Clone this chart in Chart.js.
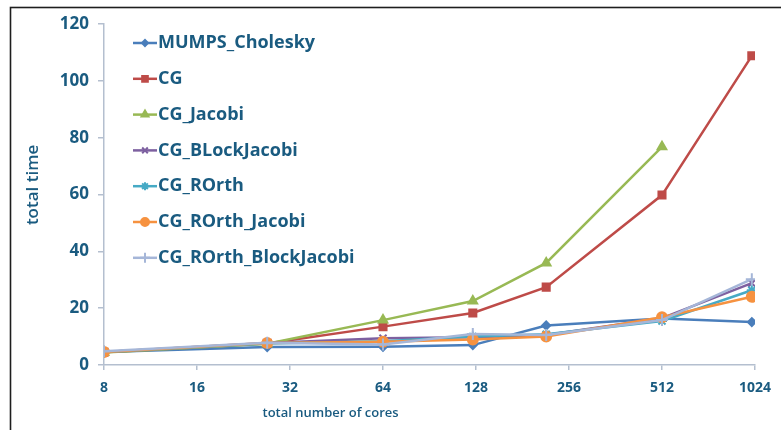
<!DOCTYPE html>
<html>
<head>
<meta charset="utf-8">
<script src="https://cdn.jsdelivr.net/npm/chart.js@4.4.1/dist/chart.umd.min.js"></script>
<style>
  html, body { margin: 0; padding: 0; background: #fff; }
  #wrap { width: 781px; height: 430px; position: relative; }
</style>
</head>
<body>
<div id="wrap"><canvas id="c" width="781" height="430"></canvas></div>
<script>
// Problem sizes (cores) at which each solver was timed
const cores = [8, 27, 64, 125, 216, 512, 1000];
const xTicks = [8, 16, 32, 64, 128, 256, 512, 1024];

// Total run time per solver
const mumpsCholesky      = [4.6, 6.3, 6.4, 7.0, 13.9, 16.4, 15.1];
const cg                 = [4.5, 7.6, 13.5, 18.3, 27.4, 59.8, 108.8];
const cgJacobi           = [4.4, 7.5, 15.8, 22.5, 35.9, 76.8];
const cgBlockJacobi      = [4.6, 7.7, 9.4, 9.8, 10.6, 16.5, 28.8];
const cgROrth            = [4.6, 7.6, 8.4, 10.0, 10.8, 15.5, 26.3];
const cgROrthJacobi      = [4.6, 7.7, 8.2, 9.0, 10.0, 16.8, 24.0];
const cgROrthBlockJacobi = [4.8, 7.8, 7.2, 10.9, 10.6, 15.8, 30.2];

const seriesNames = ['MUMPS_Cholesky', 'CG', 'CG_Jacobi', 'CG_BLockJacobi',
                     'CG_ROrth', 'CG_ROrth_Jacobi', 'CG_ROrth_BlockJacobi'];
const seriesValues = [mumpsCholesky, cg, cgJacobi, cgBlockJacobi,
                      cgROrth, cgROrthJacobi, cgROrthBlockJacobi];
const seriesColors = ['#4A7EBB', '#BE4B48', '#98B954', '#7D60A0',
                      '#46AAC5', '#F69240', '#A5B6D8'];
const seriesMarkers = ['rectRot', 'rect', 'triangle', 'crossRot',
                       'star', 'circle', 'cross'];
const markerSizes = [4, 5, 5, 5, 5, 5, 6];

const textColor = '#1a5b80';
const axisColor = '#b4bfcf';
const FONT = "'Open Sans', 'Liberation Sans', sans-serif";

const datasets = seriesNames.map((name, i) => ({
  label: name,
  data: seriesValues[i].map((v, k) => ({ x: cores[k], y: v })),
  borderColor: seriesColors[i],
  backgroundColor: seriesColors[i],
  pointBackgroundColor: seriesColors[i],
  pointBorderColor: seriesColors[i],
  pointStyle: seriesMarkers[i],
  pointRadius: markerSizes[i],
  pointBorderWidth: 2,
  borderWidth: 2.5,
  tension: 0,
  order: seriesNames.length - i
}));

// White page with a dark frame around the chart
const framePlugin = {
  id: 'frame',
  beforeDraw(chart) {
    const ctx = chart.ctx;
    ctx.save();
    ctx.fillStyle = '#ffffff';
    ctx.fillRect(0, 0, chart.width, chart.height);
    ctx.strokeStyle = '#1e1e1e';
    ctx.lineWidth = 1.6;
    ctx.strokeRect(10.5, 7.5, chart.width + 20, chart.height + 20);
    ctx.restore();
  }
};

// Legend drawn inside the plot area, top-left
const innerLegend = {
  id: 'innerLegend',
  afterDatasetsDraw(chart) {
    const ctx = chart.ctx;
    const area = chart.chartArea;
    const x0 = area.left + 29;
    const y0 = area.top + 19;
    const step = 35.8;
    ctx.save();
    chart.data.datasets.forEach((ds, i) => {
      const y = y0 + i * step;
      ctx.strokeStyle = ds.borderColor;
      ctx.lineWidth = 2.5;
      ctx.beginPath();
      ctx.moveTo(x0, y);
      ctx.lineTo(x0 + 24, y);
      ctx.stroke();
      ctx.fillStyle = ds.borderColor;
      ctx.lineWidth = 2;
      Chart.helpers.drawPoint(ctx, {
        pointStyle: ds.pointStyle,
        radius: ds.pointRadius - 1,
        rotation: 0,
        borderWidth: 2
      }, x0 + 12, y);
      ctx.fillStyle = textColor;
      ctx.font = "bold 18px " + FONT;
      ctx.textBaseline = 'middle';
      ctx.textAlign = 'left';
      ctx.fillText(ds.label, x0 + 25, y);
    });
    ctx.restore();
  }
};

// Axis titles
const axisTitles = {
  id: 'axisTitles',
  afterDraw(chart) {
    const ctx = chart.ctx;
    const area = chart.chartArea;
    ctx.save();
    ctx.fillStyle = textColor;
    ctx.textAlign = 'center';
    ctx.textBaseline = 'middle';
    ctx.font = "600 13px " + FONT;
    ctx.fillText('total number of cores', area.left + 0.348 * (area.right - area.left), area.bottom + 48);
    ctx.font = "600 17px " + FONT;
    ctx.translate(33, area.top + 0.472 * (area.bottom - area.top));
    ctx.rotate(-Math.PI / 2);
    ctx.fillText('total time', 0, 0);
    ctx.restore();
  }
};

new Chart(document.getElementById('c'), {
  type: 'line',
  data: { datasets },
  plugins: [framePlugin, innerLegend, axisTitles],
  options: {
    responsive: false,
    animation: false,
    layout: { padding: { left: 0, right: 24, top: 24, bottom: 0 } },
    plugins: {
      legend: { display: false },
      tooltip: { enabled: false }
    },
    scales: {
      x: {
        type: 'logarithmic',
        min: 8,
        max: 1024,
        afterBuildTicks(scale) {
          scale.ticks = xTicks.map(v => ({ value: v }));
        },
        afterFit(scale) { scale.height = 65; },
        border: { display: true, color: axisColor, width: 1.5 },
        grid: { display: true, drawOnChartArea: false, drawTicks: true, tickLength: 5, color: axisColor, lineWidth: 1.5 },
        ticks: {
          autoSkip: false,
          maxRotation: 0,
          color: textColor,
          font: { family: FONT, size: 14, weight: 'bold' },
          padding: 10,
          callback: (v) => String(v)
        }
      },
      y: {
        min: 0,
        max: 120,
        afterFit(scale) { scale.width = 104; },
        border: { display: true, color: axisColor, width: 1.5 },
        grid: { display: true, drawOnChartArea: false, drawTicks: true, tickLength: 6, color: axisColor, lineWidth: 1.5 },
        ticks: {
          stepSize: 20,
          color: textColor,
          font: { family: FONT, size: 17, weight: 'bold' },
          padding: 9
        }
      }
    }
  }
});
</script>
</body>
</html>
